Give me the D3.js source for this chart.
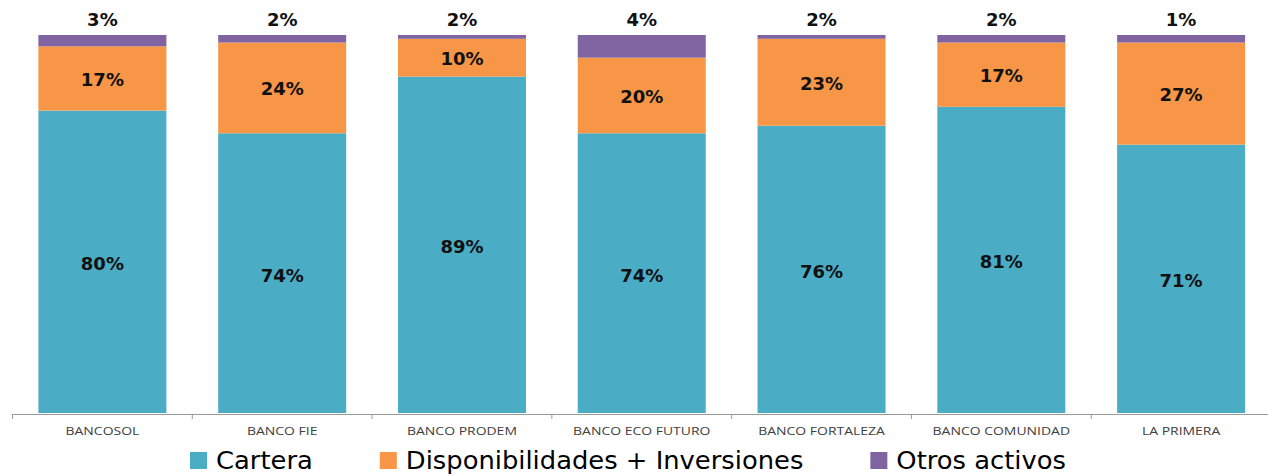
<!DOCTYPE html>
<html>
<head>
<meta charset="utf-8">
<script src="https://cdn.jsdelivr.net/npm/d3@7"></script>
<style>
  body { margin: 0; background: #fff; }
  svg { display: block; }
</style>
</head>
<body>
<div id="chart"></div>
<script>
var bancos = ["BANCOSOL", "BANCO FIE", "BANCO PRODEM", "BANCO ECO FUTURO", "BANCO FORTALEZA", "BANCO COMUNIDAD", "LA PRIMERA"];
var cartera = [80, 74, 89, 74, 76, 81, 71];
var disponibilidades = [17, 24, 10, 20, 23, 17, 27];
var otros = [3, 2, 2, 4, 2, 2, 1];
var series = ["Cartera", "Disponibilidades + Inversiones", "Otros activos"];
var colores = ["#4BACC6", "#F79646", "#8064A2"];

var width = 1268,
    height = 476;

var svg = d3.select("#chart")
    .append("svg")
    .attr("width", width)
    .attr("height", height);

var x = d3.scaleBand()
    .domain(bancos)
    .range([12.5, 1271])
    .paddingInner(0.288)
    .paddingOuter(0.144);

var y = d3.scaleLinear()
    .domain([0, 100])
    .range([413, 35]);

var datos = bancos.map(function (b, i) {
    return { banco: b, cartera: cartera[i], disp: disponibilidades[i], otros: otros[i] };
});

var g = svg.append("g");

// cartera from the bottom, disponibilidades on top, otros fills up to 100%
g.selectAll("rect.cartera")
    .data(datos)
    .enter()
    .append("rect")
    .attr("x", function (d) { return x(d.banco); })
    .attr("width", x.bandwidth())
    .attr("y", function (d) { return y(d.cartera); })
    .attr("height", function (d) { return y(0) - y(d.cartera); })
    .attr("fill", colores[0]);

g.selectAll("rect.disp")
    .data(datos)
    .enter()
    .append("rect")
    .attr("x", function (d) { return x(d.banco); })
    .attr("width", x.bandwidth())
    .attr("y", function (d) { return y(d.cartera + d.disp); })
    .attr("height", function (d) { return y(d.cartera) - y(d.cartera + d.disp); })
    .attr("fill", colores[1]);

g.selectAll("rect.otros")
    .data(datos)
    .enter()
    .append("rect")
    .attr("x", function (d) { return x(d.banco); })
    .attr("width", x.bandwidth())
    .attr("y", y(100))
    .attr("height", function (d) { return y(d.cartera + d.disp) - y(100); })
    .attr("fill", colores[2]);

// labels
var lab = svg.append("g")
    .style("font-family", "'DejaVu Sans', Verdana, sans-serif")
    .style("font-weight", "bold")
    .style("font-size", "18px")
    .attr("fill", "#111")
    .attr("text-anchor", "middle");

lab.selectAll("text.c")
    .data(datos)
    .enter()
    .append("text")
    .attr("x", function (d) { return x(d.banco) + x.bandwidth() / 2; })
    .attr("y", function (d) { return (y(0) + y(d.cartera)) / 2 + 8.5; })
    .text(function (d) { return d.cartera + "%"; });

lab.selectAll("text.d")
    .data(datos)
    .enter()
    .append("text")
    .attr("x", function (d) { return x(d.banco) + x.bandwidth() / 2; })
    .attr("y", function (d) { return (y(d.cartera) + y(d.cartera + d.disp)) / 2 + 7.5; })
    .text(function (d) { return d.disp + "%"; });

lab.selectAll("text.o")
    .data(datos)
    .enter()
    .append("text")
    .attr("x", function (d) { return x(d.banco) + x.bandwidth() / 2; })
    .attr("y", y(100) - 9)
    .text(function (d) { return d.otros + "%"; });

// axis (labels are stretched sideways like the original)
var axis = svg.append("g")
    .attr("transform", "translate(0,414)")
    .call(d3.axisBottom(x).tickSize(0).tickPadding(13));
axis.select(".domain").remove();
axis.selectAll(".tick text")
    .attr("transform", "scale(1.27,1)")
    .style("font-family", "'Open Sans', sans-serif")
    .style("font-size", "11px")
    .attr("fill", "#404040");

svg.append("line")
    .attr("x1", 12.5).attr("x2", width)
    .attr("y1", 414.5).attr("y2", 414.5)
    .attr("stroke", "#9a9a9a");

svg.selectAll("line.tick")
    .data(bancos)
    .enter()
    .append("line")
    .attr("x1", function (d) { return x(d) - x.step() * 0.144; })
    .attr("x2", function (d) { return x(d) - x.step() * 0.144; })
    .attr("y1", 414).attr("y2", 419)
    .attr("stroke", "#9a9a9a");

// legend
var legend = svg.append("g");
var lx = 190;
series.forEach(function (s, i) {
    legend.append("rect")
        .attr("x", lx).attr("y", 452)
        .attr("width", 17).attr("height", 17)
        .attr("fill", colores[i]);
    var t = legend.append("text")
        .attr("transform", "translate(" + (lx + 26) + ",469) scale(1.075,1)")
        .text(s)
        .style("font-family", "'DejaVu Sans', sans-serif")
        .style("font-size", "24px")
        .attr("fill", "#000");
    lx = lx + 26 + t.node().getComputedTextLength() * 1.075 + 67;
});
</script>
</body>
</html>
